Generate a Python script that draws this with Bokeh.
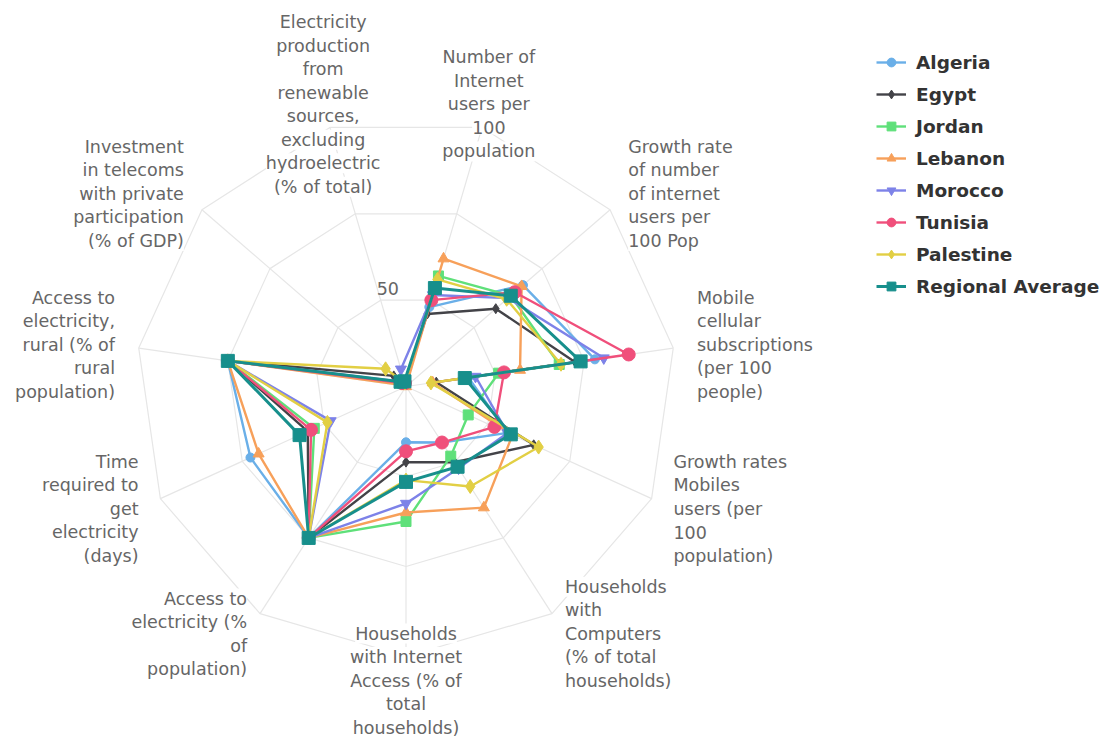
import math
from bokeh.plotting import figure
from bokeh.models import Range1d, Legend, LegendItem
from bokeh.embed import file_html
from bokeh.resources import INLINE
from bokeh.core.properties import value

# ---------------- data ----------------
# categories clockwise, first one on the "Mobile" spoke; the 12th data point wraps to spoke 0
CATEGORIES = [
    "Mobile\ncellular\nsubscriptions\n(per 100\npeople)",
    "Growth rates\nMobiles\nusers (per\n100\npopulation)",
    "Households\nwith\nComputers\n(% of total\nhouseholds)",
    "Households\nwith Internet\nAccess (% of\ntotal\nhouseholds)",
    "Access to\nelectricity (%\nof\npopulation)",
    "Time\nrequired to\nget\nelectricity\n(days)",
    "Access to\nelectricity,\nrural (% of\nrural\npopulation)",
    "Investment\nin telecoms\nwith private\nparticipation\n(% of GDP)",
    "Electricity\nproduction\nfrom\nrenewable\nsources,\nexcluding\nhydroelectric\n(% of total)",
    "Number of\nInternet\nusers per\n100\npopulation",
    "Growth rate\nof number\nof internet\nusers per\n100 Pop",
]

SERIES_NAMES = ["Algeria", "Egypt", "Jordan", "Lebanon", "Morocco",
                "Tunisia", "Palestine", "Regional Average"]

algeria   = [35, 62, 37, 31, 100, 95, 100, 2, 2, 46, 86, 106]
egypt     = [17, 78, 50, 42, 100, 60, 100, 9, 2, 42, 66, 95]
jordan    = [52, 38, 46, 75, 100, 56, 100, 3, 2, 64, 77, 86]
lebanon   = [15, 65, 80, 70, 100, 90, 100, 1, 0, 74, 85, 64]
morocco   = [39, 62, 54, 65, 100, 46, 100, 4, 10, 53, 75, 111]
tunisia   = [55, 54, 37, 36, 100, 58, 100, 3, 2, 50, 80, 125]
palestine = [14, 81, 66, 52, 100, 48, 100, 15, 2, 62, 74, 87]
regional  = [33, 64, 53, 53, 100, 65, 100, 4, 3, 57, 77, 98]

SERIES_VALUES = [algeria, egypt, jordan, lebanon, morocco, tunisia, palestine, regional]

Y_TICKS = [50, 100, 150]
Y_TICK_LABELS = ["50"]          # only label shown in the chart
Y_MAX = 150

# ---------------- styling ----------------
COLORS = ["#6aafe8", "#434348", "#5fe07a", "#f7a05a", "#7d82e8",
          "#f04f7b", "#e2cf44", "#178f8c"]
MARKERS = ["circle", "diamond", "square", "triangle", "inverted_triangle",
           "circle", "diamond", "square"]
SIZES = [9, 10, 10, 11, 11, 13, 14, 13]
LWIDTHS = [2.4, 2.4, 2.4, 2.4, 2.4, 2.4, 2.4, 3]

W, H = 1100, 736
CX, CY = 405.5, 386.0       # centre of the pane, px from figure top-left
SCALE = 1.8                 # px per unit
N = len(CATEGORIES)
STEP = 360.0 / N
START = 2.5 * STEP          # angle of the first category (clockwise from top)
LABEL_R = 294 / SCALE
LINE_H = 23.5 / SCALE
FONT = "DejaVu Sans"


def ang(i):
    return math.radians(START + (i % N) * STEP)


def pol(v, i):
    a = ang(i)
    return v * math.sin(a), v * math.cos(a)


p = figure(width=W, height=H, output_backend="svg", toolbar_location=None,
           x_range=Range1d(-CX / SCALE, (W - CX) / SCALE),
           y_range=Range1d(-(H - CY) / SCALE, CY / SCALE),
           x_axis_type=None, y_axis_type=None, min_border=0,
           outline_line_color=None, background_fill_color="white",
           border_fill_color="white")

# grid: polygon rings and spokes
ring_xs, ring_ys = [], []
for t in Y_TICKS:
    pts = [pol(t, k) for k in range(N + 1)]
    ring_xs.append([q[0] for q in pts])
    ring_ys.append([q[1] for q in pts])
p.multi_line(ring_xs, ring_ys, line_color="#e6e6e6", line_width=1.2)
p.segment(x0=[0] * N, y0=[0] * N,
          x1=[pol(Y_MAX, k)[0] for k in range(N)],
          y1=[pol(Y_MAX, k)[1] for k in range(N)],
          line_color="#e6e6e6", line_width=1.2)

# category labels, one text row per line so each line masks the grid beneath it
groups = {"left": ([], [], []), "right": ([], [], []), "center": ([], [], [])}
for i, lab in enumerate(CATEGORIES):
    a = ang(i)
    ax, ay = LABEL_R * math.sin(a), LABEL_R * math.cos(a)
    s = math.sin(a)
    align = "center" if abs(s) < 0.3 else ("left" if s > 0 else "right")
    lines = lab.split("\n")
    n = len(lines)
    for j, ln in enumerate(lines):
        g = groups[align]
        g[0].append(ax)
        g[1].append(ay + ((n - 1) / 2 - j) * LINE_H)
        g[2].append(ln)
for align, (xs, ys, ts) in groups.items():
    if xs:
        p.text(x=xs, y=ys, text=ts, text_align=align, text_baseline="middle",
               text_font=value(FONT), text_font_size="17.5px", text_color="#666666",
               background_fill_color="white", background_fill_alpha=1.0)

# y axis label
for t, lab in zip(Y_TICKS, Y_TICK_LABELS):
    p.text(x=[-7 / SCALE], y=[t + 8 / SCALE], text=[lab], text_align="right",
           text_baseline="middle", text_font=value(FONT), text_font_size="17.5px",
           text_color="#666666")

# series
items = []
for name, vals, col, mk, sz, lw in zip(SERIES_NAMES, SERIES_VALUES, COLORS,
                                         MARKERS, SIZES, LWIDTHS):
    pts = [pol(v, i) for i, v in enumerate(vals)]
    xs = [q[0] for q in pts]
    ys = [q[1] for q in pts]
    lr = p.line(xs + [xs[0]], ys + [ys[0]], line_color=col, line_width=lw,
                line_join="round")
    sr = p.scatter(xs, ys, marker=mk, size=sz, fill_color=col, line_color=col)
    items.append(LegendItem(label=name, renderers=[lr, sr]))

legend = Legend(items=items, location=(876, H - 51 - 246), border_line_color=None,
                background_fill_alpha=0, padding=0, margin=0, spacing=10,
                glyph_width=30, glyph_height=22, label_height=22, label_standoff=10,
                label_text_font=FONT, label_text_font_style="bold",
                label_text_font_size="18.5px", label_text_color="#333333")
p.add_layout(legend)

open("out.html", "w").write(file_html(p, INLINE))
